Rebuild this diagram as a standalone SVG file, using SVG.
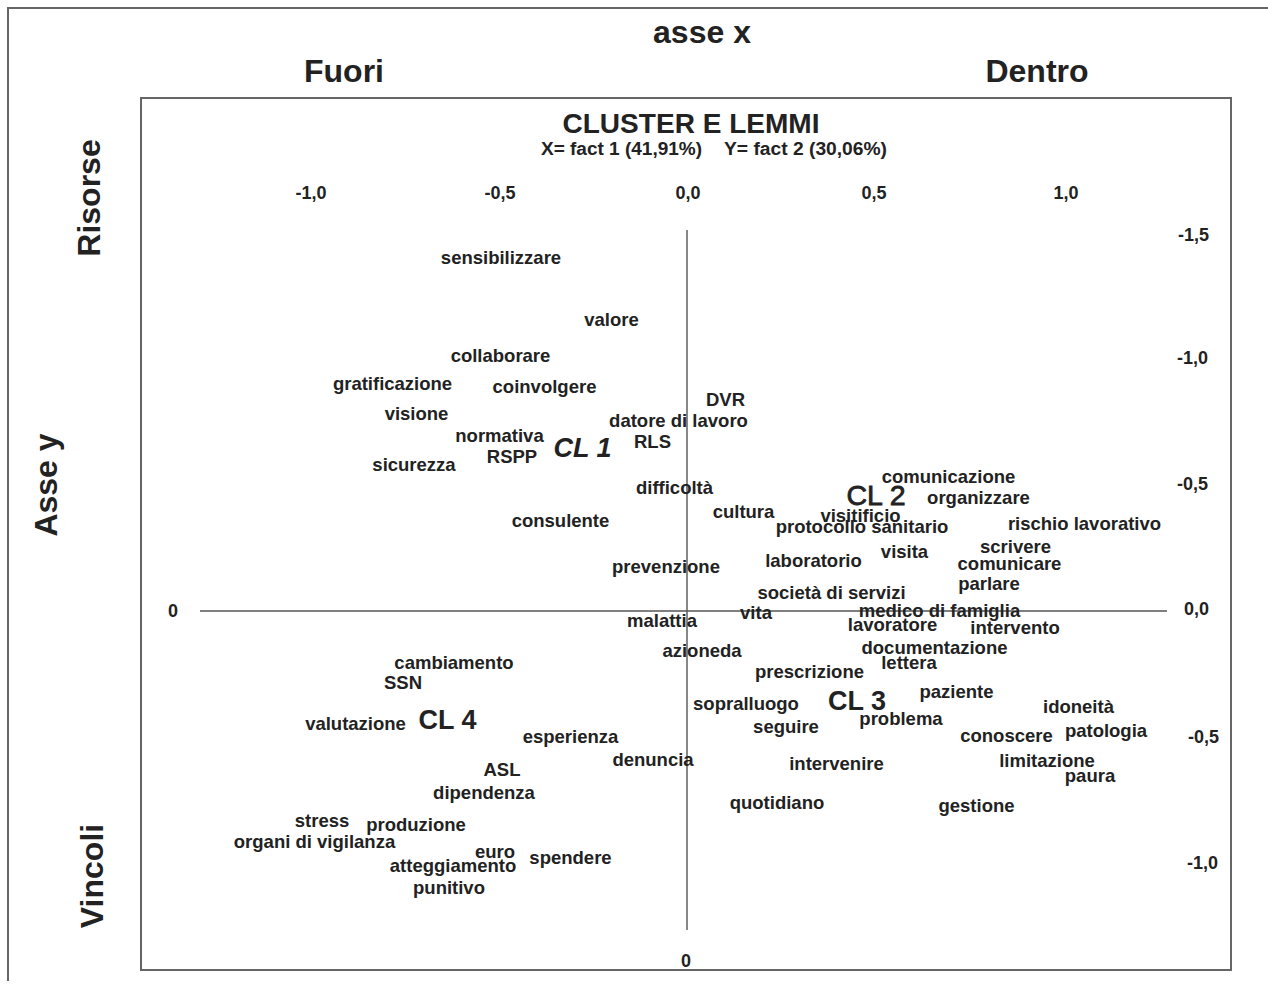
<svg xmlns="http://www.w3.org/2000/svg" width="1268" height="986" viewBox="0 0 1268 986">
<style>
text{font-family:"Liberation Sans",Arial,sans-serif;font-weight:bold;fill:#222}
.w{font-size:18.5px;text-anchor:middle}
.tk{font-size:18px}
.big{font-size:32px;text-anchor:middle}
.cl{font-size:27px;text-anchor:middle}
.frame{fill:none;stroke:#666;stroke-width:2}
.axis{stroke:#555;stroke-width:1.4;fill:none}
</style>
<rect width="1268" height="986" fill="#fff"/>
<path class="frame" d="M8,981 V8 H1268"/>
<rect class="frame" x="141" y="98" width="1090" height="872"/>
<g id="connectors">
<line class="axis" x1="200" y1="611" x2="1167" y2="611"/>
<line class="axis" x1="687" y1="230" x2="687" y2="930"/>
</g>
<g id="titles">
<text id="t-assex" class="big" x="702" y="43">asse x</text>
<text id="t-fuori" class="big" x="344" y="82">Fuori</text>
<text id="t-dentro" class="big" x="1037" y="82">Dentro</text>
<text id="t-risorse" class="big" transform="translate(100,198) rotate(-90)">Risorse</text>
<text id="t-assey" class="big" transform="translate(57,485) rotate(-90)">Asse y</text>
<text id="t-vincoli" class="big" transform="translate(103,876) rotate(-90)">Vincoli</text>
<text id="t-cluster" x="691" y="133" style="font-size:27px;text-anchor:middle" textLength="257" lengthAdjust="spacingAndGlyphs">CLUSTER E LEMMI</text>
<text id="t-sub" style="font-size:18px"><tspan x="541" y="155" textLength="161" lengthAdjust="spacingAndGlyphs">X= fact 1 (41,91%)</tspan><tspan x="724" y="155" textLength="163" lengthAdjust="spacingAndGlyphs">Y= fact 2  (30,06%)</tspan></text>
</g>
<g id="ticks" class="tk">
<text x="311" y="199" text-anchor="middle">-1,0</text>
<text x="500" y="199" text-anchor="middle">-0,5</text>
<text x="688" y="199" text-anchor="middle">0,0</text>
<text x="874" y="199" text-anchor="middle">0,5</text>
<text x="1066" y="199" text-anchor="middle">1,0</text>
<text x="1209" y="241" text-anchor="end">-1,5</text>
<text x="1208" y="364" text-anchor="end">-1,0</text>
<text x="1208" y="490" text-anchor="end">-0,5</text>
<text x="1209" y="615" text-anchor="end">0,0</text>
<text x="1219" y="743" text-anchor="end">-0,5</text>
<text x="1218" y="869" text-anchor="end">-1,0</text>
<text x="173" y="617" text-anchor="middle">0</text>
<text x="686" y="967" text-anchor="middle">0</text>
</g>
<g id="n-sensibilizzare"><text class="w" x="501" y="264">sensibilizzare</text></g>
<g id="n-valore"><text class="w" x="611.5" y="326">valore</text></g>
<g id="n-collaborare"><text class="w" x="500.5" y="362">collaborare</text></g>
<g id="n-gratificazione"><text class="w" x="392.5" y="390">gratificazione</text></g>
<g id="n-coinvolgere"><text class="w" x="544.5" y="393">coinvolgere</text></g>
<g id="n-dvr"><text class="w" x="725.5" y="406">DVR</text></g>
<g id="n-visione"><text class="w" x="416.5" y="420">visione</text></g>
<g id="n-datore"><text class="w" x="678.5" y="427">datore di lavoro</text></g>
<g id="n-normativa"><text class="w" x="499.5" y="442">normativa</text></g>
<g id="n-cl1"><text class="cl" x="582.5" y="457" font-style="italic">CL 1</text></g>
<g id="n-rls"><text class="w" x="652.5" y="448">RLS</text></g>
<g id="n-rspp"><text class="w" x="512" y="463">RSPP</text></g>
<g id="n-sicurezza"><text class="w" x="414" y="471">sicurezza</text></g>
<g id="n-difficolta"><text class="w" x="674.5" y="494">difficoltà</text></g>
<g id="n-comunicazione"><text class="w" x="948.5" y="483">comunicazione</text></g>
<g id="n-cl2"><text class="cl" x="876" y="505" style="font-weight:normal;font-size:28.5px;stroke:#222;stroke-width:0.8">CL 2</text></g>
<g id="n-organizzare"><text class="w" x="978.5" y="504">organizzare</text></g>
<g id="n-cultura"><text class="w" x="743.5" y="518">cultura</text></g>
<g id="n-visitificio"><text class="w" x="860.5" y="522">visitificio</text></g>
<g id="n-consulente"><text class="w" x="560.5" y="527">consulente</text></g>
<g id="n-protocollo"><text class="w" x="862" y="533">protocollo sanitario</text></g>
<g id="n-rischio"><text class="w" x="1084.5" y="530">rischio lavorativo</text></g>
<g id="n-scrivere"><text class="w" x="1015.5" y="553">scrivere</text></g>
<g id="n-visita"><text class="w" x="904.5" y="558">visita</text></g>
<g id="n-laboratorio"><text class="w" x="813.5" y="567">laboratorio</text></g>
<g id="n-comunicare"><text class="w" x="1009.5" y="570">comunicare</text></g>
<g id="n-prevenzione"><text class="w" x="666" y="573">prevenzione</text></g>
<g id="n-parlare"><text class="w" x="989" y="590">parlare</text></g>
<g id="n-societa"><text class="w" x="831.5" y="599">società di servizi</text></g>
<g id="n-medico"><text class="w" x="939.5" y="617">medico di famiglia</text></g>
<g id="n-vita"><text class="w" x="756" y="619">vita</text></g>
<g id="n-malattia"><text class="w" x="662" y="627">malattia</text></g>
<g id="n-lavoratore"><text class="w" x="892.5" y="631">lavoratore</text></g>
<g id="n-intervento"><text class="w" x="1015" y="634">intervento</text></g>
<g id="n-documentazione"><text class="w" x="934.5" y="654">documentazione</text></g>
<g id="n-azioneda"><text class="w" x="702" y="657">azioneda</text></g>
<g id="n-lettera"><text class="w" x="909" y="669">lettera</text></g>
<g id="n-cambiamento"><text class="w" x="454" y="669">cambiamento</text></g>
<g id="n-prescrizione"><text class="w" x="809.5" y="678">prescrizione</text></g>
<g id="n-ssn"><text class="w" x="403" y="689">SSN</text></g>
<g id="n-paziente"><text class="w" x="956.5" y="698">paziente</text></g>
<g id="n-cl3"><text class="cl" x="857" y="710">CL 3</text></g>
<g id="n-sopralluogo"><text class="w" x="746" y="710">sopralluogo</text></g>
<g id="n-idoneita"><text class="w" x="1078.5" y="713">idoneità</text></g>
<g id="n-valutazione"><text class="w" x="355.5" y="730">valutazione</text></g>
<g id="n-cl4"><text class="cl" x="447.5" y="729">CL 4</text></g>
<g id="n-problema"><text class="w" x="901" y="725">problema</text></g>
<g id="n-seguire"><text class="w" x="786" y="733">seguire</text></g>
<g id="n-patologia"><text class="w" x="1106" y="737">patologia</text></g>
<g id="n-conoscere"><text class="w" x="1006.5" y="742">conoscere</text></g>
<g id="n-esperienza"><text class="w" x="570.5" y="743">esperienza</text></g>
<g id="n-denuncia"><text class="w" x="653" y="766">denuncia</text></g>
<g id="n-limitazione"><text class="w" x="1047" y="767">limitazione</text></g>
<g id="n-intervenire"><text class="w" x="836.5" y="770">intervenire</text></g>
<g id="n-asl"><text class="w" x="502" y="776">ASL</text></g>
<g id="n-paura"><text class="w" x="1090" y="782">paura</text></g>
<g id="n-dipendenza"><text class="w" x="484" y="799">dipendenza</text></g>
<g id="n-quotidiano"><text class="w" x="777" y="809">quotidiano</text></g>
<g id="n-gestione"><text class="w" x="976.5" y="812">gestione</text></g>
<g id="n-stress"><text class="w" x="322" y="827">stress</text></g>
<g id="n-produzione"><text class="w" x="416" y="831">produzione</text></g>
<g id="n-organi"><text class="w" x="314.5" y="848">organi di vigilanza</text></g>
<g id="n-euro"><text class="w" x="495" y="858">euro</text></g>
<g id="n-spendere"><text class="w" x="570.5" y="864">spendere</text></g>
<g id="n-atteggiamento"><text class="w" x="453" y="872">atteggiamento</text></g>
<g id="n-punitivo"><text class="w" x="449" y="894">punitivo</text></g>
</svg>
